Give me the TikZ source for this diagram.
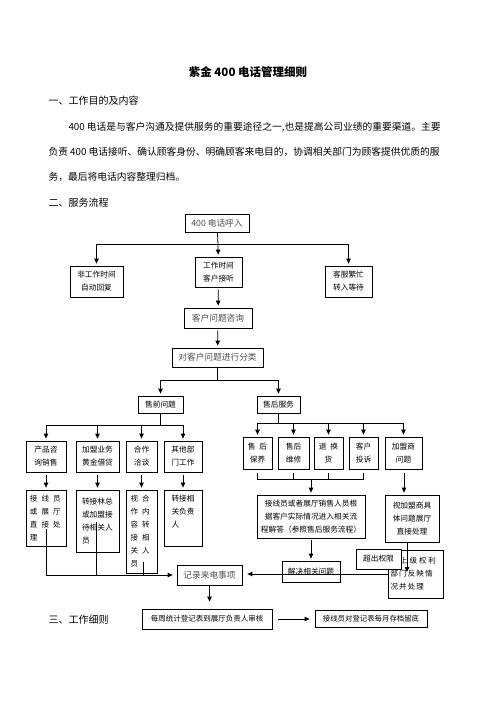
\documentclass[tikz,border=0pt]{standalone}
\usepackage{fontspec}
\newfontfamily\cjk{Noto Sans CJK SC}
\usetikzlibrary{arrows.meta}

\begin{document}
\begin{tikzpicture}[
    x=1pt, y=-1pt,
    every node/.style={font=\cjk},
    box/.style={draw, line width=0.8pt, inner sep=0pt, align=center, font=\cjk\fontsize{7.7}{13}\selectfont},
    song/.style={box, text=black!70, font=\cjk\fontsize{8.7}{11}\selectfont},
    spaced/.style={box, align=left, font=\cjk\fontsize{7.5}{13}\selectfont\addfontfeature{LetterSpace=55}},
    leftbox/.style={box, align=left},
    heading/.style={anchor=west, font=\cjk\fontsize{10}{12}\selectfont},
    bodytext/.style={anchor=west, font=\cjk\fontsize{9.75}{12}\selectfont},
    arrow/.style={-{Triangle[length=5pt,width=4.5pt]}, line width=0.8pt, shorten >=2pt},
    link/.style={line width=0.8pt}
]
\useasboundingbox (0,0) rectangle (496,702);

% Title and text
\node[font=\cjk\bfseries\fontsize{11.5}{13}\selectfont] (title) at (248,72) {紫金 400 电话管理细则};
\node[heading] (sec1) at (45,101) {一、工作目的及内容};
\node[bodytext] (para1) at (65,127) {400 电话是与客户沟通及提供服务的重要途径之一,也是提高公司业绩的重要渠道。主要};
\node[bodytext] (para2) at (45,152) {负责 400 电话接听、确认顾客身份、明确顾客来电目的，协调相关部门为顾客提供优质的服};
\node[bodytext] (para3) at (45,177) {务，最后将电话内容整理归档。};
\node[heading] (sec2) at (45,203) {二、服务流程};
\node[heading] (sec3) at (45,620) {三、工作细则};

% Incoming call
\node[song, minimum width=64pt, minimum height=18pt] (call) at (217,223) {400 电话呼入};
\node[box, minimum width=53pt, minimum height=31pt] (offhours) at (96.5,281.5) {非工作时间\\自动回复};
\node[box, minimum width=47pt, minimum height=30pt] (answer) at (218.5,272) {工作时间\\客户接听};
\node[box, minimum width=47pt, minimum height=31pt] (busy) at (348.5,281.5) {客服繁忙\\转入等待};
\node[song, minimum width=68pt, minimum height=20pt] (consult) at (218,318) {客户问题咨询};
\node[song, minimum width=91pt, minimum height=19pt] (classify) at (217.5,357.5) {对客户问题进行分类};

\coordinate (split1) at (218,244);
\draw[link] (call) -- (split1);
\draw[arrow] (split1) -| (offhours);
\draw[arrow] (split1) -| (busy);
\draw[arrow] (split1) -- (answer);
\draw[arrow, shorten <=2pt] (answer) -- (consult);
\draw[arrow, shorten <=2pt] (consult) -- (classify);

% Pre-sale / after-sale
\node[box, minimum width=45pt, minimum height=17pt] (presale) at (160.5,404.5) {售前问题};
\node[box, minimum width=43pt, minimum height=17pt] (aftersale) at (278.5,404.5) {售后服务};

\coordinate (split2) at (217.5,380);
\draw[link] (classify) -- (split2);
\draw[arrow] (split2) -| (presale);
\draw[arrow] (split2) -| (aftersale);

% Pre-sale branch
\node[box, minimum width=40pt, minimum height=31pt] (prod) at (46,456.5) {产品咨\\询销售};
\node[box, minimum width=43pt, minimum height=31pt] (join) at (97.5,456.5) {加盟业务\\黄金借贷};
\node[box, minimum width=31pt, minimum height=31pt] (coop) at (141.5,456.5) {合作\\洽谈};
\node[box, minimum width=38pt, minimum height=31pt] (other) at (183,456.5) {其他部\\门工作};

\coordinate (split3) at (160.5,425);
\draw[link] (presale) -- (split3);
\foreach \n in {prod,join,coop,other}
    \draw[arrow] (split3) -| (\n);

\node[spaced, text width=32pt, minimum width=40pt, minimum height=56pt] (prodhandle) at (46,518) {接线员\\或展厅\\直接处\\理};
\node[leftbox, text width=31pt, minimum width=43pt, minimum height=62pt] (joinhandle) at (97.5,521) {转接林总\\或加盟接\\待相关人\\员};
\node[spaced, text width=22pt, minimum width=31pt, minimum height=83pt] (coophandle) at (141.5,531.5) {视合\\作内\\容转\\接相\\关人\\员};
\node[leftbox, text width=23pt, minimum width=38pt, minimum height=56pt] (otherhandle) at (183,518) {转接相\\关负责\\人\\\mbox{}};

\draw[arrow, shorten <=3pt] (prod) -- (prodhandle);
\draw[arrow, shorten <=3pt] (join) -- (joinhandle);
\draw[arrow, shorten <=3pt] (coop) -- (coophandle);
\draw[arrow, shorten <=3pt] (other) -- (otherhandle);

% After-sale branch
\node[box, minimum width=29pt, minimum height=32pt] (upkeep) at (257.5,453) {售\hspace{4pt}后\\保养};
\node[box, minimum width=31pt, minimum height=32pt] (repair) at (293.5,453) {售后\\维修};
\node[box, minimum width=29pt, minimum height=32pt] (refund) at (328.5,453) {退\hspace{4pt}换\\货\hspace{11pt}};
\node[box, minimum width=29pt, minimum height=32pt] (complain) at (363.5,453) {客户\\投诉};
\node[box, minimum width=37pt, minimum height=32pt] (dealer) at (403.5,453) {加盟商\\问题};

\coordinate (split4) at (278.5,423);
\draw[link] (aftersale) -- (split4);
\foreach \n in {upkeep,repair,refund,complain,dealer}
    \draw[arrow] (split4) -| (\n);

\node[box, minimum width=108pt, minimum height=43pt] (handle) at (311,516.5) {接线员或者展厅销售人员根\\据客户实际情况进入相关流\\程解答（参照售后服务流程）};
\node[box, minimum width=54pt, minimum height=47pt] (dealerfix) at (412,518.5) {视加盟商具\\体问题展厅\\直接处理};

\coordinate (merge) at (311,479);
\draw[link] ([yshift=-4pt]upkeep.south) |- (merge);
\draw[link] ([yshift=-4pt]complain.south) |- (merge);
\draw[link] ([yshift=-4pt]repair.south) -- (repair |- merge);
\draw[link] ([yshift=-4pt]refund.south) -- (refund |- merge);
\draw[arrow] (merge) -- (handle);
\coordinate (dealerline) at (404,0);
\draw[arrow, shorten <=4pt] (dealer.south -| dealerline) -- (dealerfix.north -| dealerline);

% Resolution
\node[leftbox, text width=50pt, minimum width=55pt, minimum height=48pt, font=\cjk\fontsize{7.5}{13}\selectfont\addfontfeature{LetterSpace=15}] (upper) at (415.5,574) {向\hspace{2pt}上\hspace{2pt}级\hspace{2pt}权\hspace{2pt}利\\部门反映情\\况并处理};
\node[box, minimum width=58pt, minimum height=21pt] (solve) at (311,571.5) {解决相关问题};
\node[box, fill=white, minimum width=45pt, minimum height=20pt] (beyond) at (378.5,559) {超出权限};

\coordinate (escalate) at (407,572);
\draw[arrow, shorten <=2pt] (handle) -- (solve);
\draw[arrow, shorten >=0pt] (dealerfix.south -| escalate) -- (escalate);

% Record
\node[song, minimum width=65pt, minimum height=20pt] (record) at (209.5,575) {记录来电事项};
\draw[arrow, shorten >=5pt] (upper.west) -- (upper.west -| record.east);

\coordinate (c1) at (46,529);
\coordinate (c2) at (96,522);
\coordinate (c3) at (143,562);
\draw[link] (c2) -- (c2 |- record.west);
\draw[link] (c3) -- (c3 |- record.west);
\draw[arrow, shorten >=4pt] (c1) |- (record.west);

% Work rules
\node[box, minimum width=130pt, minimum height=20pt, font=\cjk\fontsize{7.5}{10}\selectfont] (weekly) at (207,619) {每周统计登记表到展厅负责人审核};
\node[box, minimum width=112pt, minimum height=17pt, font=\cjk\fontsize{7.4}{10}\selectfont] (archive) at (371,618.5) {接线员对登记表每月存档留底};

\draw[arrow, shorten >=7pt] (record) -- (record |- weekly.north);
\draw[arrow, shorten <=6pt, shorten >=5pt] (weekly) -- (weekly -| archive.west);

\end{tikzpicture}
\end{document}
